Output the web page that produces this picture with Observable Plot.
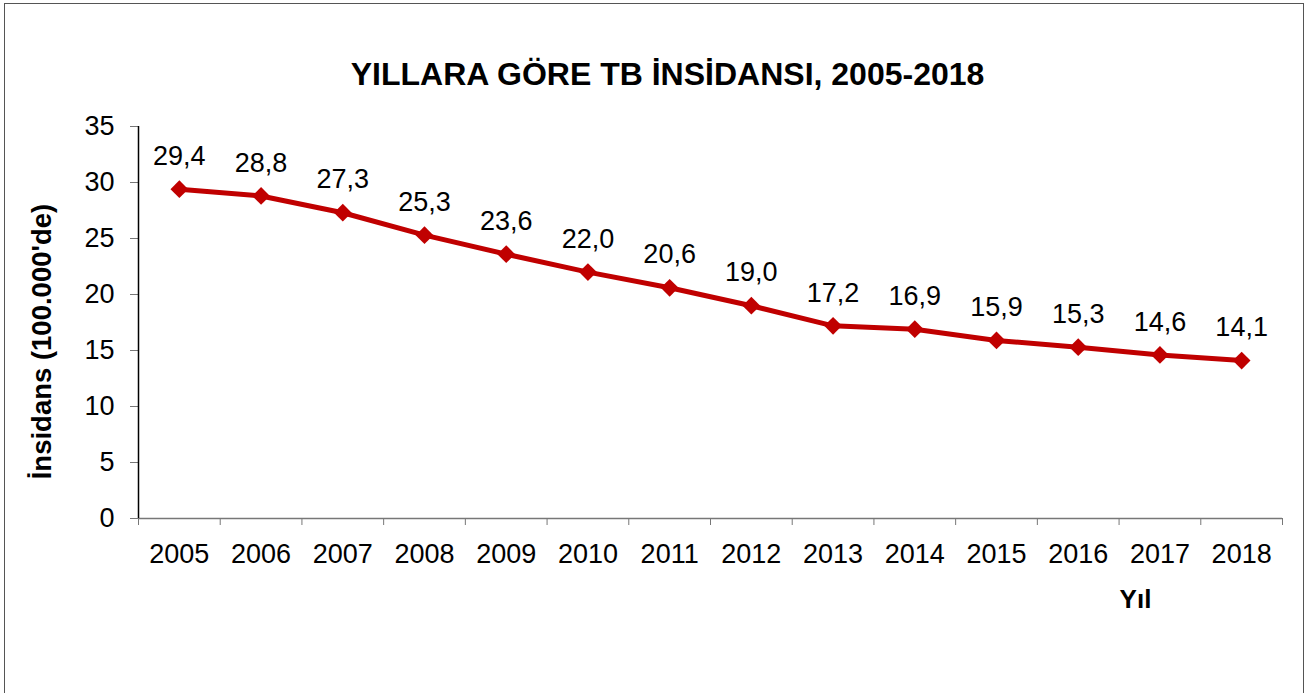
<!DOCTYPE html>
<html>
<head>
<meta charset="utf-8">
<script src="https://cdn.jsdelivr.net/npm/d3@7"></script>
<script src="https://cdn.jsdelivr.net/npm/@observablehq/plot@0.6"></script>
<style>
  html, body { margin: 0; padding: 0; background: #fff; overflow: hidden; }
  #wrap { position: relative; width: 1312px; height: 693px; }
  #border { position: absolute; left: 4px; top: 3px; width: 1300px; height: 720px; border: 1.5px solid #555; box-sizing: border-box; }
  #chart { position: absolute; left: 0; top: 0; }
</style>
</head>
<body>
<div id="wrap"><div id="border"></div><div id="chart"></div></div>
<script>
const titleText = "YILLARA GÖRE TB İNSİDANSI, 2005-2018";
const yAxisTitle = "İnsidans (100.000'de)";
const xAxisTitle = "Yıl";
const years = [2005, 2006, 2007, 2008, 2009, 2010, 2011, 2012, 2013, 2014, 2015, 2016, 2017, 2018];
const incidence = [29.4, 28.8, 27.3, 25.3, 23.6, 22.0, 20.6, 19.0, 17.2, 16.9, 15.9, 15.3, 14.6, 14.1];
const yTicks = [0, 5, 10, 15, 20, 25, 30, 35];

const data = years.map((y, i) => ({year: y, value: incidence[i]}));
const boundaries = years.map(y => y - 0.5).concat([years[years.length - 1] + 0.5]);
const fmt = v => v.toFixed(1).replace(".", ",");
const font = "'Liberation Sans', Arial, sans-serif";

const chart = Plot.plot({
  width: 1312,
  height: 693,
  marginLeft: 138,
  marginRight: 30,
  marginTop: 126,
  marginBottom: 175,
  style: {fontFamily: font, background: "transparent", color: "#000"},
  x: {type: "linear", domain: [2004.5, 2018.5]},
  y: {domain: [0, 35]},
  marks: [
    Plot.axisY({ticks: yTicks, tickSize: 8, tickPadding: 16, fontSize: 27, label: null, stroke: "#777"}),
    Plot.axisX({ticks: boundaries, tickSize: 7, tickFormat: () => "", label: null, stroke: "#777"}),
    Plot.axisX({ticks: years, tickSize: 0, tickPadding: 25, tickFormat: d => String(d), fontSize: 27, label: null}),
    Plot.ruleY([0], {stroke: "#777", strokeWidth: 1.5}),
    Plot.ruleX([2004.5], {y1: 0, y2: 35, stroke: "#000", strokeWidth: 1.5}),
    Plot.line(data, {x: "year", y: "value", stroke: "#C00000", strokeWidth: 5}),
    Plot.dot(data, {x: "year", y: "value", symbol: "diamond2", r: 8, fill: "#C00000", stroke: "none"}),
    Plot.text(data, {x: "year", y: "value", text: d => fmt(d.value), dy: -33, fontSize: 27, fill: "#000"}),
    Plot.text([titleText], {frameAnchor: "top", dx: -43, dy: -64, fontSize: 32, fontWeight: "bold", fill: "#000"}),
    Plot.text([yAxisTitle], {frameAnchor: "left", textAnchor: "middle", rotate: -90, dx: -96, dy: 19, fontSize: 27.5, fontWeight: "bold", fill: "#000"}),
    Plot.text([xAxisTitle], {frameAnchor: "bottom", dx: 425, dy: 89, fontSize: 26, fontWeight: "bold", fill: "#000"})
  ]
});
document.getElementById("chart").append(chart);
</script>
</body>
</html>
